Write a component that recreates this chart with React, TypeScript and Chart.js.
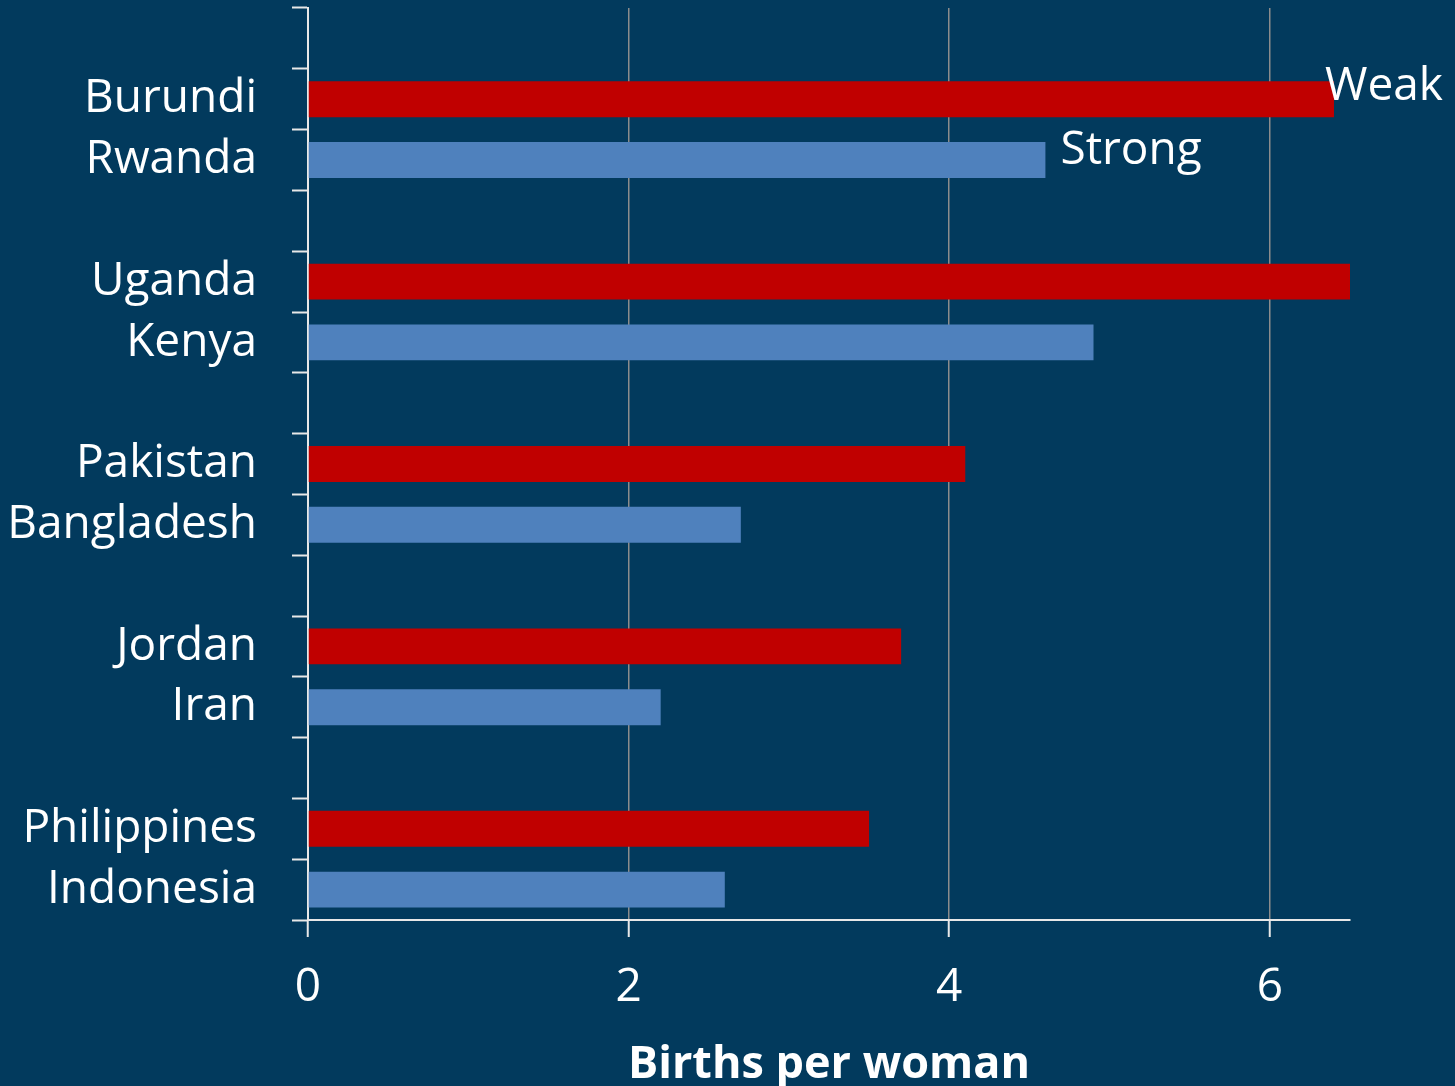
import React, { useEffect, useRef } from "react";
import { Chart, registerables } from "chart.js";

Chart.register(...registerables);

// Total fertility rate (births per woman), paired by state capacity
const WEAK_COUNTRIES = ["Burundi", "Uganda", "Pakistan", "Jordan", "Philippines"];
const WEAK_TFR = [6.4, 6.5, 4.1, 3.7, 3.5];
const STRONG_COUNTRIES = ["Rwanda", "Kenya", "Bangladesh", "Iran", "Indonesia"];
const STRONG_TFR = [4.6, 4.9, 2.7, 2.2, 2.6];
const X_TICKS = [0, 2, 4, 6];
const X_MAX = 6.5;
const SERIES_NAMES = ["Weak", "Strong"];

const FONT = "'Open Sans', 'Noto Sans', sans-serif";
const BG = "#023a5d";
const RED = "#c00000";
const BLUE = "#4f81bd";
const AXIS = "#e8e8e8";
const GRID = "#8c8c8c";

// Rows: a blank spacer, then the weak-state country, then its strong-state neighbour
const rows: string[] = [];
const weakData: (number | null)[] = [];
const strongData: (number | null)[] = [];
WEAK_COUNTRIES.forEach((w, i) => {
  rows.push("", w, STRONG_COUNTRIES[i]);
  weakData.push(null, WEAK_TFR[i], null);
  strongData.push(null, null, STRONG_TFR[i]);
});

// Series names written beside the first bar of each series
const seriesNotes = {
  id: "seriesNotes",
  afterDatasetsDraw(chart: any) {
    const ctx = chart.ctx;
    const offsets = [
      { dx: -9, dy: 1 },
      { dx: 15, dy: 4 },
    ];
    ctx.save();
    ctx.fillStyle = "#ffffff";
    ctx.font = `46px ${FONT}`;
    ctx.textAlign = "left";
    ctx.textBaseline = "alphabetic";
    SERIES_NAMES.forEach((name, d) => {
      const meta = chart.getDatasetMeta(d);
      const idx = meta.data.findIndex((_: any, i: number) => chart.data.datasets[d].data[i] != null);
      const el = meta.data[idx];
      if (!el) return;
      ctx.fillText(name, el.x + offsets[d].dx, el.y + offsets[d].dy);
    });
    ctx.restore();
  },
};

export default function App() {
  const ref = useRef<HTMLCanvasElement>(null);

  useEffect(() => {
    if (!ref.current) return;
    const chart = new Chart(ref.current, {
      type: "bar",
      data: {
        labels: rows,
        datasets: [
          {
            label: SERIES_NAMES[0],
            data: weakData,
            backgroundColor: RED,
            borderWidth: 0,
          },
          {
            label: SERIES_NAMES[1],
            data: strongData,
            backgroundColor: BLUE,
            borderWidth: 0,
          },
        ],
      },
      options: {
        indexAxis: "y",
        responsive: false,
        animation: false,
        devicePixelRatio: 1,
        layout: { padding: { top: 8, right: 105, left: 0, bottom: 0 } },
        datasets: {
          bar: { grouped: false, categoryPercentage: 1, barPercentage: 0.59 },
        },
        plugins: {
          legend: { display: false },
          tooltip: { enabled: false },
        },
        scales: {
          x: {
            type: "linear",
            min: 0,
            max: X_MAX,
            afterBuildTicks: (scale: any) => {
              scale.ticks = X_TICKS.map((v) => ({ value: v }));
            },
            afterFit: (scale: any) => {
              scale.height = 166;
              scale.paddingLeft = 0;
              scale.paddingRight = 0;
            },
            grid: {
              color: (c: any) => (c.tick && c.tick.value === 0 ? "rgba(0,0,0,0)" : GRID),
              lineWidth: 1.5,
              tickColor: AXIS,
              tickLength: 17,
              tickWidth: 2,
            },
            border: { display: true, color: AXIS, width: 2 },
            ticks: {
              color: "#ffffff",
              font: { family: FONT, size: 46 },
              padding: 23,
              maxRotation: 0,
            },
            title: {
              display: true,
              text: "Births per woman",
              color: "#ffffff",
              font: { family: FONT, size: 45, weight: "bold" },
              padding: { top: 0, bottom: -6 },
            },
          },
          y: {
            type: "category",
            offset: true,
            afterFit: (scale: any) => {
              scale.width = 308;
              scale.paddingTop = 0;
              scale.paddingBottom = 0;
            },
            grid: {
              offset: true,
              drawOnChartArea: false,
              tickColor: AXIS,
              tickLength: 16,
              tickWidth: 2,
            },
            border: { display: true, color: AXIS, width: 2 },
            ticks: {
              color: "#ffffff",
              font: { family: FONT, size: 46 },
              padding: 35,
              autoSkip: false,
            },
          },
        },
      },
      plugins: [seriesNotes],
    } as any);
    return () => chart.destroy();
  }, []);

  return (
    <div
      style={{
        position: "absolute",
        left: 0,
        top: 0,
        width: 1455,
        height: 1086,
        background: BG,
        overflow: "hidden",
      }}
    >
      <canvas ref={ref} width={1455} height={1086} style={{ display: "block" }} />
    </div>
  );
}
